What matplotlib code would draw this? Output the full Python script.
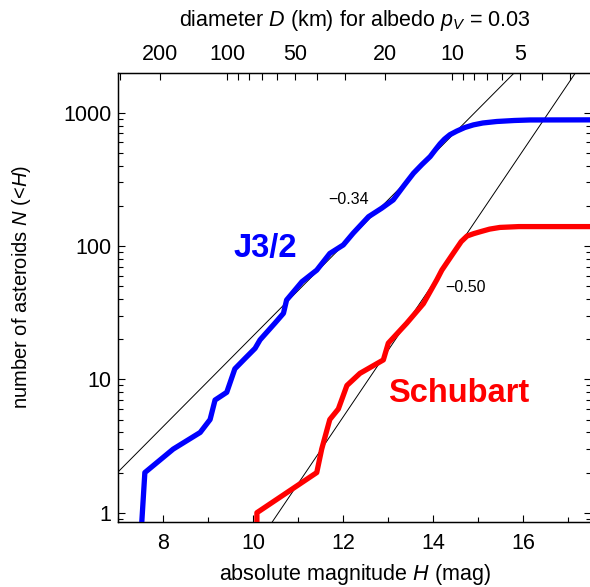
import numpy as np
import matplotlib
matplotlib.use("Agg")
import matplotlib.pyplot as plt
from matplotlib.ticker import FixedLocator, NullFormatter

plt.rcParams['font.family'] = ['Liberation Sans', 'DejaVu Sans']
plt.rcParams['mathtext.fontset'] = 'custom'
plt.rcParams['mathtext.rm'] = 'Liberation Sans'
plt.rcParams['mathtext.it'] = 'Liberation Sans:italic'

# cumulative counts
j32_H = [7.48, 7.59, 8.22, 8.82, 9.04, 9.15, 9.41, 9.59, 9.82, 10.04, 10.15,
         10.48, 10.67, 10.74, 11.08, 11.41, 11.70, 12.00, 12.22, 12.56, 12.85,
         13.11, 13.35, 13.56, 13.75, 13.93, 14.05, 14.15, 14.25, 14.37, 14.52,
         14.70, 14.89, 15.10, 15.41, 15.80, 16.15, 18.0]
j32_N = [0.5, 2, 3, 4, 5, 7, 8, 12, 14.4, 17.1, 19.8,
         26.4, 31.3, 39.4, 54, 66, 88, 102, 125, 166, 192,
         222, 285, 352, 410, 469, 530, 585, 635, 685, 728,
         775, 811, 838, 860, 875, 883, 885]

schubart_H = [10.08, 10.08, 11.41, 11.52, 11.70, 11.89, 12.08, 12.37, 12.89, 13.0,
              13.41, 13.78, 14.08, 14.19, 14.44, 14.62, 14.75, 14.90, 15.04, 15.25,
              15.48, 15.9, 18.0]
schubart_N = [0.5, 1, 2, 3, 5, 6, 9, 11.1, 14, 18.7,
              26.4, 37, 56, 66, 88, 108, 119, 124, 128, 134,
              138, 140, 140]

# power-law fits: log10 N = slope * H + icpt
fit_slopes = [0.34, 0.50]
fit_icpts = [-2.0724, -5.28]
fit_labels = ["\u22120.34", "\u22120.50"]

# top axis: diameter for albedo 0.03
albedo = 0.03
D_major = [200, 100, 50, 20, 10, 5]
D_minor = [300, 90, 80, 70, 60, 40, 30, 9, 8, 7, 6, 4, 3]


def H_of_D(D):
    return 5 * np.log10(1329.0 / np.sqrt(albedo) / np.asarray(D, dtype=float))


fig = plt.figure(figsize=(5.9, 5.87), dpi=100)
ax = fig.add_axes([118.3 / 590, (587 - 521.7) / 587, 472.5 / 590, (521.7 - 73.3) / 587])

ax.set_yscale('log')
ax.set_xlim(7, 17.5)
ax.set_ylim(0.856, 1977)

hh = np.array([5.0, 20.0])
for s, b in zip(fit_slopes, fit_icpts):
    ax.plot(hh, 10 ** (s * hh + b), color='black', lw=0.7, zorder=2)

ax.plot(j32_H, j32_N, color='#0000ff', lw=3.8, solid_joinstyle='round', zorder=3)
ax.plot(schubart_H, schubart_N, color='#ff0000', lw=3.8, solid_joinstyle='round', zorder=3)

ax.text(12.12, 222, fit_labels[0], fontsize=11.5, ha='center', va='center')
ax.text(14.72, 49, fit_labels[1], fontsize=11.5, ha='center', va='center')
ax.text(10.26, 96, "J3/2", fontsize=23.5, fontweight='bold', color='#0000ff',
        ha='center', va='center')
ax.text(14.57, 7.9, "Schubart", fontsize=23.5, fontweight='bold', color='#ff0000',
        ha='center', va='center')

ax.set_xticks([8, 10, 12, 14, 16])
ax.xaxis.set_minor_locator(FixedLocator([7, 9, 11, 13, 15, 17]))
ax.set_yticks([1, 10, 100, 1000])
ax.set_yticklabels(["1", "10", "100", "1000"])
ax.tick_params(axis='x', which='both', direction='in', top=False, labelsize=15.5, pad=8)
ax.tick_params(axis='y', which='both', direction='in', right=True, labelsize=15.5, pad=5)
ax.tick_params(which='major', length=5, width=0.8)
ax.tick_params(which='minor', length=3.5, width=0.8)
ax.yaxis.set_minor_formatter(NullFormatter())
for sp in ax.spines.values():
    sp.set_linewidth(1.0)

ax.set_xlabel("absolute magnitude $H$ (mag)", fontsize=15.5, labelpad=6)
ax.set_ylabel("number of asteroids $N$ (<$H$)", fontsize=14.5)
ax.yaxis.set_label_coords(-0.18, 0.523)

ax2 = ax.twiny()
ax2.set_xlim(ax.get_xlim())
ax2.set_xticks(H_of_D(D_major))
ax2.set_xticklabels([str(d) for d in D_major])
ax2.xaxis.set_minor_locator(FixedLocator(H_of_D(D_minor)))
ax2.xaxis.set_minor_formatter(NullFormatter())
ax2.tick_params(axis='x', which='both', direction='in', labelsize=15.5, pad=6, width=0.8)
ax2.tick_params(which='major', length=5)
ax2.tick_params(which='minor', length=5)
ax2.set_xlabel("diameter $D$ (km) for albedo $p_V$ = 0.03", fontsize=15.5, labelpad=13)

fig.savefig("out.png", dpi=100)
